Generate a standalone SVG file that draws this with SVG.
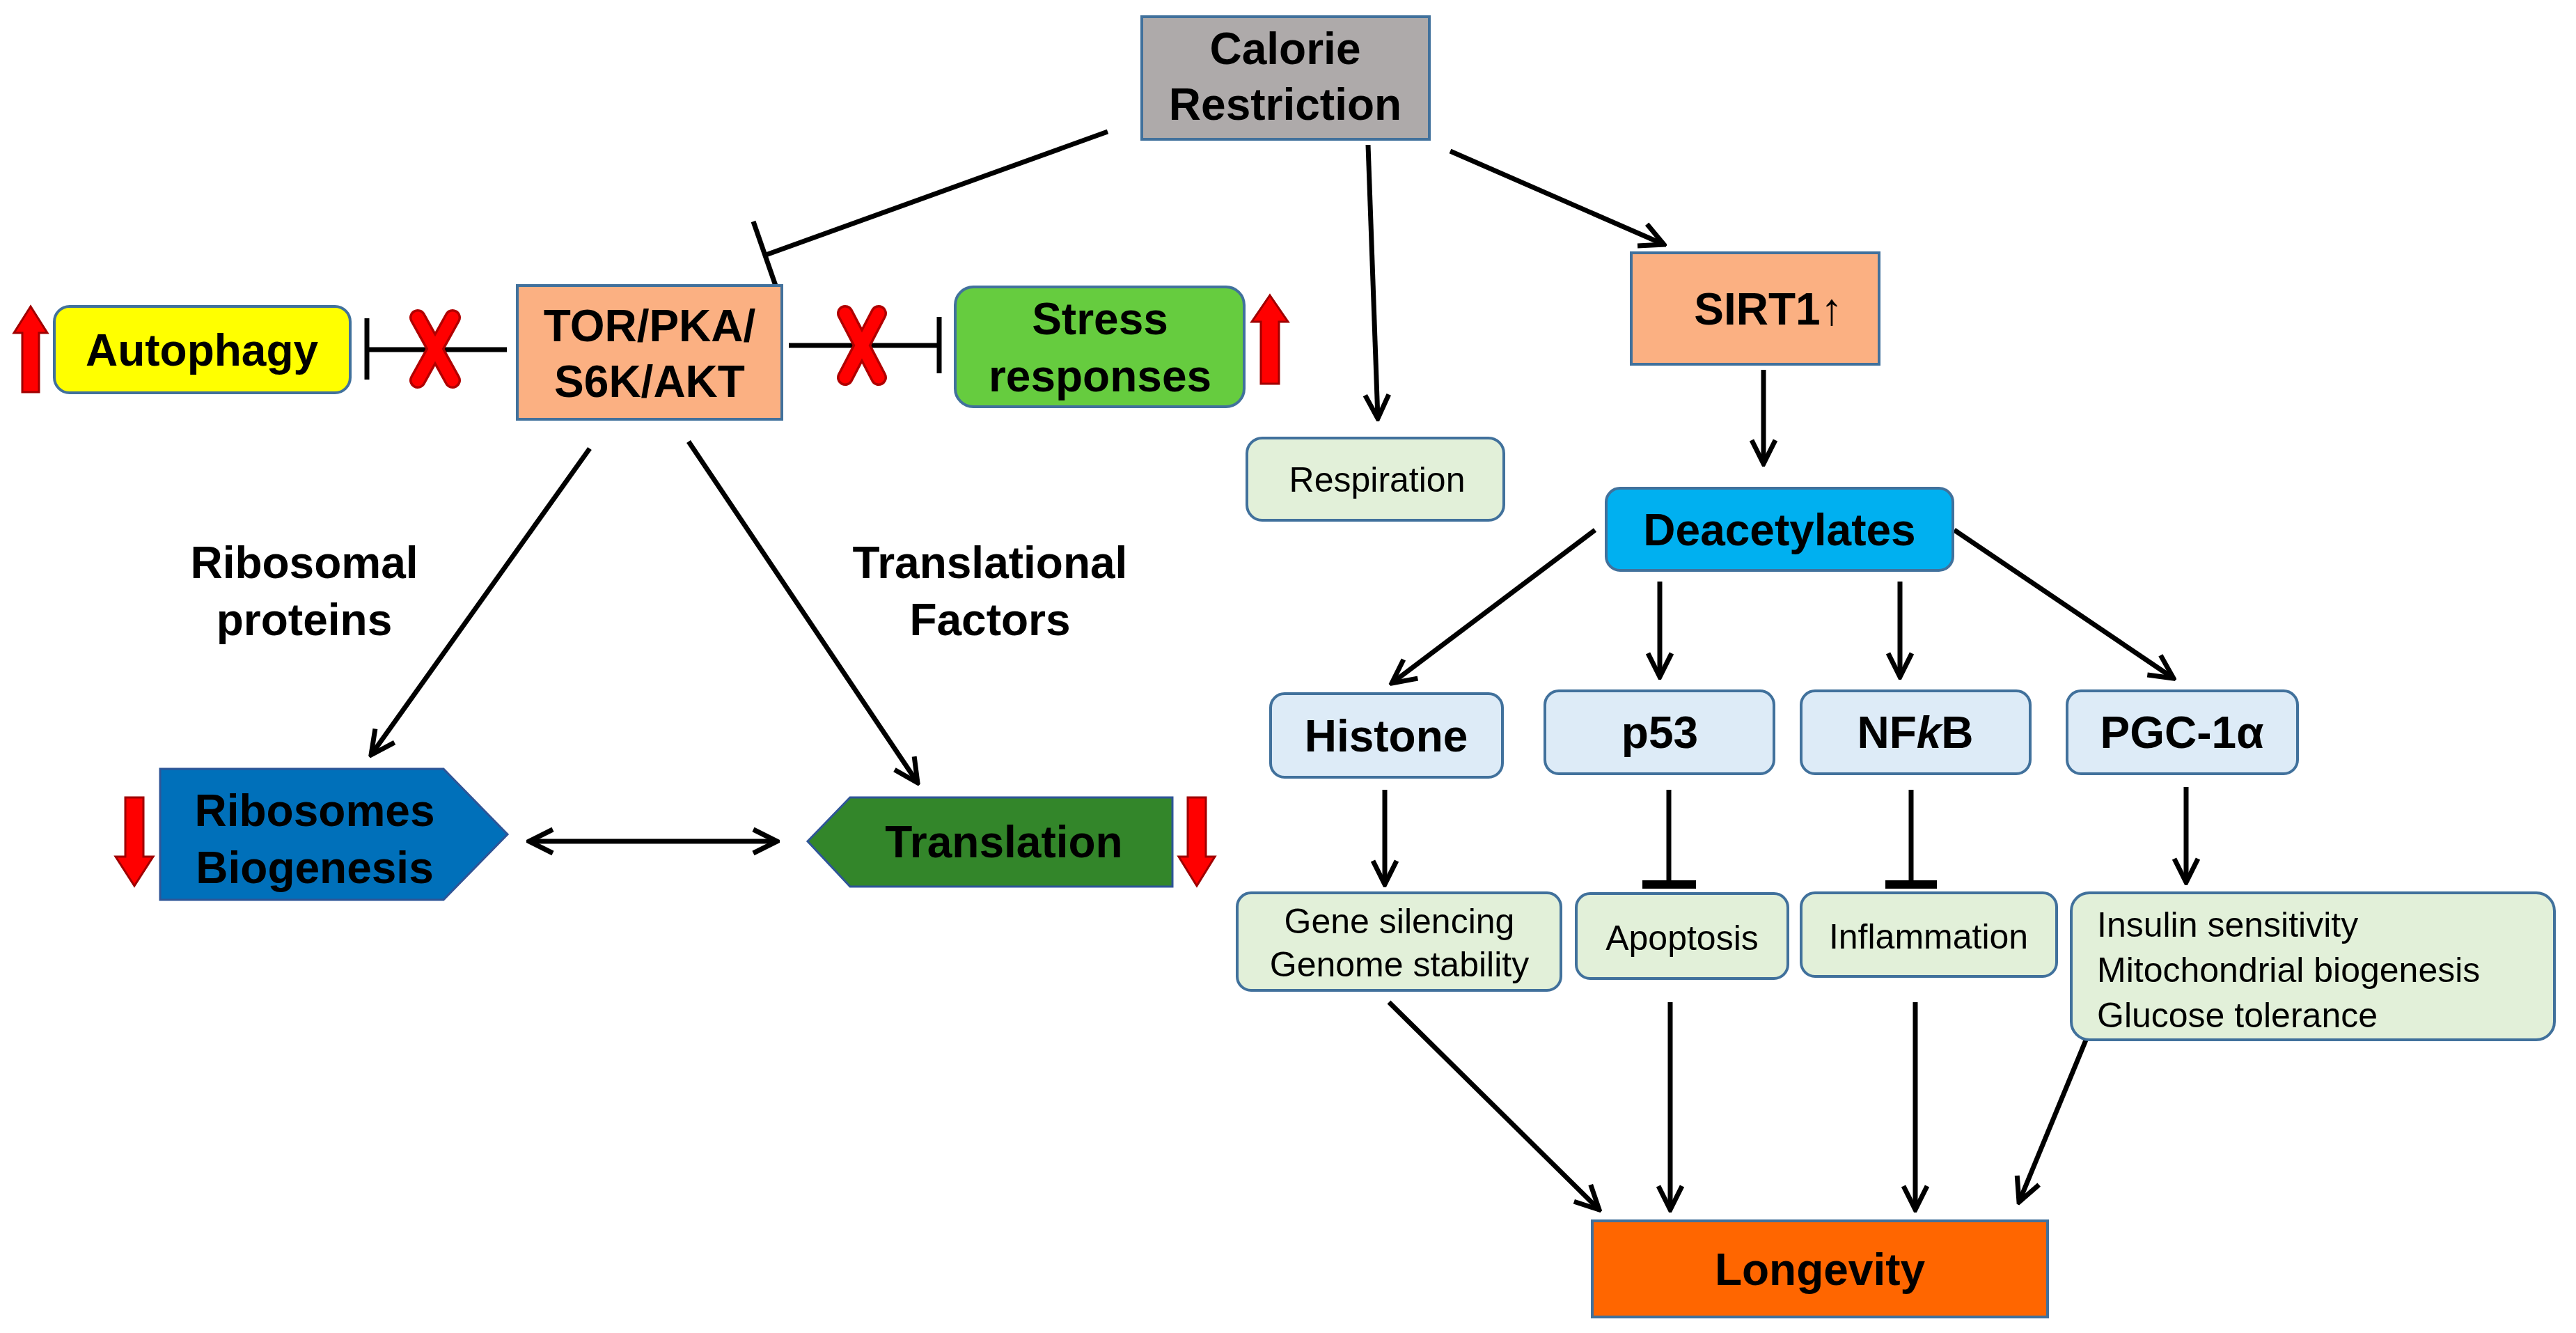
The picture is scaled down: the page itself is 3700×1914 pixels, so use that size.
<svg xmlns="http://www.w3.org/2000/svg" width="3700" height="1914" viewBox="0 0 3700 1914">
<style>
.b{font-family:"Liberation Sans",Arial,sans-serif;font-weight:bold;font-size:64px;fill:#000;text-anchor:middle}
.r{font-family:"Liberation Sans",Arial,sans-serif;font-size:50px;fill:#000;text-anchor:middle}
.ln{stroke:#000;stroke-width:7;fill:none}
.bd{stroke:#41719c;stroke-width:4}
.red{fill:#ff0000;stroke:#a00000;stroke-width:3}
</style>
<defs>
<marker id="ah" viewBox="0 0 44 44" refX="40" refY="22" markerWidth="44" markerHeight="44" markerUnits="userSpaceOnUse" orient="auto">
<path d="M6,5 L40,22 L6,39" fill="none" stroke="#000" stroke-width="7"/>
</marker>
<marker id="ahs" viewBox="0 0 44 44" refX="4" refY="22" markerWidth="44" markerHeight="44" markerUnits="userSpaceOnUse" orient="auto">
<path d="M38,5 L4,22 L38,39" fill="none" stroke="#000" stroke-width="7"/>
</marker>
</defs>
<rect width="3700" height="1914" fill="#fff"/>
<g id="connectors">
<line class="ln" x1="1591" y1="189" x2="1100" y2="366"/>
<line class="ln" x1="1082" y1="318" x2="1114" y2="410"/>
<line class="ln" x1="728" y1="502" x2="527" y2="502"/>
<line class="ln" x1="527" y1="457" x2="527" y2="545"/>
<line class="ln" x1="1133" y1="496" x2="1349" y2="496"/>
<line class="ln" x1="1349" y1="455" x2="1349" y2="536"/>
<line class="ln" x1="847" y1="644" x2="533" y2="1084" marker-end="url(#ah)"/>
<line class="ln" x1="989" y1="634" x2="1318" y2="1124" marker-end="url(#ah)"/>
<line class="ln" x1="760" y1="1208" x2="1116" y2="1208" marker-start="url(#ahs)" marker-end="url(#ah)"/>
<line class="ln" x1="1965" y1="208" x2="1979" y2="601" marker-end="url(#ah)"/>
<line class="ln" x1="2083" y1="217" x2="2390" y2="351" marker-end="url(#ah)"/>
<line class="ln" x1="2533" y1="531" x2="2533" y2="666" marker-end="url(#ah)"/>
<line class="ln" x1="2291" y1="761" x2="1999" y2="981" marker-end="url(#ah)"/>
<line class="ln" x1="2384" y1="835" x2="2384" y2="972" marker-end="url(#ah)"/>
<line class="ln" x1="2729" y1="835" x2="2729" y2="972" marker-end="url(#ah)"/>
<line class="ln" x1="2807" y1="761" x2="3122" y2="974" marker-end="url(#ah)"/>
<line class="ln" x1="1989" y1="1134" x2="1989" y2="1270" marker-end="url(#ah)"/>
<line class="ln" x1="2397" y1="1134" x2="2397" y2="1268"/>
<line x1="2359" y1="1270" x2="2436" y2="1270" stroke="#000" stroke-width="12"/>
<line class="ln" x1="2745" y1="1134" x2="2745" y2="1268"/>
<line x1="2708" y1="1270" x2="2782" y2="1270" stroke="#000" stroke-width="12"/>
<line class="ln" x1="3140" y1="1130" x2="3140" y2="1267" marker-end="url(#ah)"/>
<line class="ln" x1="1995" y1="1439" x2="2297" y2="1737" marker-end="url(#ah)"/>
<line class="ln" x1="2399" y1="1439" x2="2399" y2="1737" marker-end="url(#ah)"/>
<line class="ln" x1="2751" y1="1439" x2="2751" y2="1737" marker-end="url(#ah)"/>
<line class="ln" x1="2997" y1="1491" x2="2900" y2="1726" marker-end="url(#ah)"/>
</g>
<g id="xmarks">
<g>
<line x1="604" y1="842" x2="650" y2="1014" stroke="#a00000" stroke-width="0"/>
<path d="M600,456 L650,546 M650,456 L600,546" stroke="#b00000" stroke-width="24" stroke-linecap="round"/>
<path d="M600,456 L650,546 M650,456 L600,546" stroke="#ff0000" stroke-width="17" stroke-linecap="round"/>
</g>
<g>
<path d="M1214,450 L1262,542 M1262,450 L1214,542" stroke="#b00000" stroke-width="24" stroke-linecap="round"/>
<path d="M1214,450 L1262,542 M1262,450 L1214,542" stroke="#ff0000" stroke-width="17" stroke-linecap="round"/>
</g>
</g>
<g id="redarrows">
<path class="red" d="M44,440 L68,478 L56,478 L56,563 L32,563 L32,478 L20,478 Z"/>
<path class="red" d="M1824,424 L1850,462 L1837,462 L1837,551 L1811,551 L1811,462 L1798,462 Z"/>
<path class="red" d="M193,1272 L220,1230 L206,1230 L206,1145 L180,1145 L180,1230 L166,1230 Z"/>
<path class="red" d="M1719,1272 L1745,1230 L1732,1230 L1732,1145 L1706,1145 L1706,1230 L1693,1230 Z"/>
</g>
<g id="calorie"><rect x="1640" y="24" width="413" height="176" fill="#aeaaaa" class="bd"/>
<text class="b" x="1846" y="92">Calorie</text><text class="b" x="1846" y="172">Restriction</text></g>
<g id="tor"><rect x="743" y="410" width="380" height="192" fill="#fbb082" class="bd"/>
<text class="b" x="933" y="490">TOR/PKA/</text><text class="b" x="933" y="570">S6K/AKT</text></g>
<g id="autophagy"><rect x="78" y="440" width="425" height="124" rx="22" fill="#ffff00" class="bd"/>
<text class="b" x="290" y="525">Autophagy</text></g>
<g id="stress"><rect x="1372" y="412" width="415" height="172" rx="26" fill="#66cc3f" class="bd"/>
<text class="b" x="1580" y="480">Stress</text><text class="b" x="1580" y="562">responses</text></g>
<g id="labels">
<text class="b" x="437" y="830">Ribosomal</text><text class="b" x="437" y="912">proteins</text>
<text class="b" x="1422" y="830">Translational</text><text class="b" x="1422" y="912">Factors</text>
</g>
<g id="ribosomes"><polygon points="230,1104 637,1104 729,1198 637,1292 230,1292" fill="#0070ba" stroke="#2e5597" stroke-width="3"/>
<text class="b" x="452" y="1186">Ribosomes</text><text class="b" x="452" y="1268">Biogenesis</text></g>
<g id="translation"><polygon points="1221,1145 1684,1145 1684,1273 1221,1273 1160,1208" fill="#33862a" stroke="#2e5597" stroke-width="3"/>
<text class="b" x="1442" y="1231">Translation</text></g>
<g id="respiration"><rect x="1791" y="629" width="369" height="118" rx="22" fill="#e2f0d9" class="bd"/>
<text class="r" x="1978" y="706">Respiration</text></g>
<g id="sirt1"><rect x="2343" y="363" width="356" height="160" fill="#fbb082" class="bd"/>
<text class="b" x="2540" y="466">SIRT1↑</text></g>
<g id="deacetylates"><rect x="2307" y="701" width="498" height="118" rx="20" fill="#00b0f0" class="bd"/>
<text class="b" x="2556" y="783">Deacetylates</text></g>
<g id="histone"><rect x="1825" y="996" width="333" height="120" rx="20" fill="#ddebf7" class="bd"/>
<text class="b" x="1991" y="1079">Histone</text></g>
<g id="p53"><rect x="2219" y="992" width="329" height="119" rx="20" fill="#ddebf7" class="bd"/>
<text class="b" x="2384" y="1074">p53</text></g>
<g id="nfkb"><rect x="2587" y="992" width="329" height="119" rx="20" fill="#ddebf7" class="bd"/>
<text class="b" x="2751" y="1074">NF<tspan font-style="italic">k</tspan>B</text></g>
<g id="pgc"><rect x="2969" y="992" width="331" height="119" rx="20" fill="#ddebf7" class="bd"/>
<text class="b" x="3134" y="1074">PGC-1α</text></g>
<g id="gene"><rect x="1777" y="1282" width="465" height="140" rx="20" fill="#e2f0d9" class="bd"/>
<text class="r" x="2010" y="1340">Gene silencing</text><text class="r" x="2010" y="1402">Genome stability</text></g>
<g id="apoptosis"><rect x="2264" y="1283" width="304" height="122" rx="20" fill="#e2f0d9" class="bd"/>
<text class="r" x="2416" y="1364">Apoptosis</text></g>
<g id="inflammation"><rect x="2587" y="1282" width="367" height="120" rx="20" fill="#e2f0d9" class="bd"/>
<text class="r" x="2770" y="1362">Inflammation</text></g>
<g id="insulin"><rect x="2975" y="1282" width="694" height="211" rx="26" fill="#e2f0d9" class="bd"/>
<text class="r" x="3012" y="1345" text-anchor="start" style="text-anchor:start">Insulin sensitivity</text>
<text class="r" x="3012" y="1410" style="text-anchor:start">Mitochondrial biogenesis</text>
<text class="r" x="3012" y="1475" style="text-anchor:start">Glucose tolerance</text></g>
<g id="longevity"><rect x="2287" y="1753" width="654" height="138" fill="#ff6600" class="bd"/>
<text class="b" x="2614" y="1845">Longevity</text></g>
</svg>
